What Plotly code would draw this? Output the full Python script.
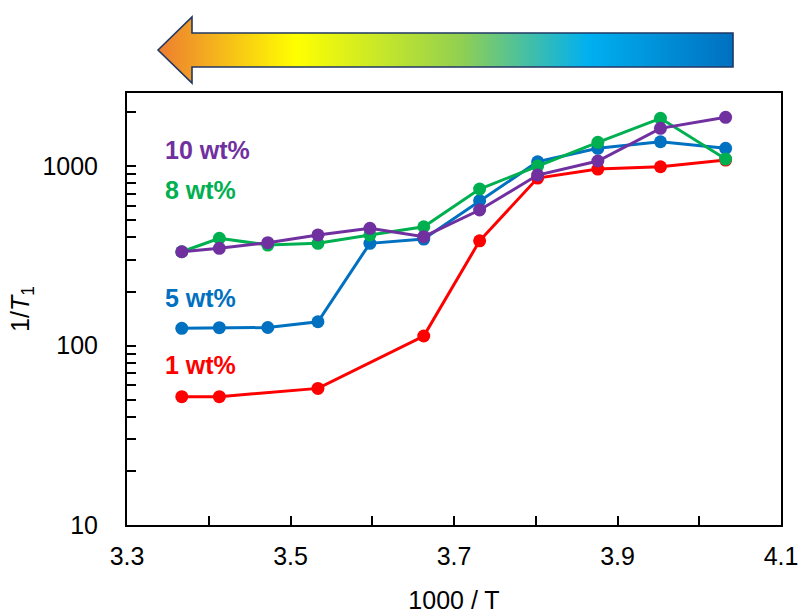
import base64
import plotly.graph_objects as go

# ---- data ----
temps_K = [297, 293, 288, 283, 278, 273, 268, 263, 258, 253, 248]
x_all = [1000.0 / t for t in temps_K]

red_idx = [0, 1, 3, 5, 6, 7, 8, 9, 10]
red_y = [51.9, 51.9, 57.7, 113, 383, 857, 962, 991, 1080]

blue_y = [124.7, 125.7, 126, 135.7, 371, 392, 641, 1057, 1255, 1366, 1255]
green_y = [333, 396, 363, 371, 413, 459, 745, 1000, 1356, 1845, 1094]
purple_y = [333, 348, 374, 413, 450, 404, 569, 891, 1067, 1622, 1868]

series_labels = ["1 wt%", "5 wt%", "8 wt%", "10 wt%"]
series_colors = ["#FF0000", "#0070C0", "#00B050", "#7030A0"]

x_tickvals = [3.3, 3.5, 3.7, 3.9, 4.1]
x_ticktext = ["3.3", "3.5", "3.7", "3.9", "4.1"]
x_minorvals = [3.4, 3.6, 3.8, 4.0]

FONT = "Liberation Sans, Arial, sans-serif"

fig = go.Figure()
series = [
    ([x_all[i] for i in red_idx], red_y),
    (x_all, blue_y),
    (x_all, green_y),
    (x_all, purple_y),
]
for (xs, ys), name, col in zip(series, series_labels, series_colors):
    fig.add_trace(go.Scatter(
        x=xs, y=ys, mode="lines+markers", name=name,
        line=dict(color=col, width=3),
        marker=dict(color=col, size=13),
        showlegend=False, cliponaxis=False,
    ))

# series labels
label_pos = {"10 wt%": 3.089, "8 wt%": 2.866, "5 wt%": 2.265, "1 wt%": 1.891}
for name, col in zip(series_labels, series_colors):
    fig.add_annotation(
        x=3.344, y=label_pos[name], xref="x", yref="y",
        text="<b>%s</b>" % name, showarrow=False, xanchor="left", yanchor="middle",
        font=dict(family=FONT, size=25, color=col),
    )

# gradient arrow (decorative) as SVG image
svg = (
    '<svg xmlns="http://www.w3.org/2000/svg" width="579" height="70" viewBox="0 0 579 70">'
    '<defs><linearGradient id="g" gradientUnits="userSpaceOnUse" x1="2" y1="0" x2="577" y2="0">'
    '<stop offset="0" stop-color="#ED7D31"/>'
    '<stop offset="0.24" stop-color="#FFFF00"/>'
    '<stop offset="0.525" stop-color="#92D050"/>'
    '<stop offset="0.748" stop-color="#00B0F0"/>'
    '<stop offset="1" stop-color="#0070C0"/>'
    '</linearGradient></defs>'
    '<path d="M2,35 L36,2 L36,18 L577,18 L577,52 L36,52 L36,68 Z" fill="url(#g)" '
    'stroke="#203864" stroke-width="1.6" stroke-linejoin="miter"/>'
    '</svg>'
)
src = "data:image/svg+xml;base64," + base64.b64encode(svg.encode()).decode()
L, R, T, B = 127, 22, 93, 90
W, H = 803, 615
pw, ph = W - L - R, H - T - B
fig.add_layout_image(
    source=src, xref="paper", yref="paper",
    x=(156 - L) / pw, y=(H - B - 15) / ph,
    sizex=579 / pw, sizey=70 / ph,
    xanchor="left", yanchor="top", sizing="stretch", layer="above",
)

fig.update_layout(
    width=W, height=H,
    margin=dict(l=L, r=R, t=T, b=B, pad=0, autoexpand=False),
    plot_bgcolor="white", paper_bgcolor="white",
    font=dict(family=FONT, size=25, color="#000000"),
)
fig.update_xaxes(
    range=[3.3, 4.1], tickvals=x_tickvals, ticktext=x_ticktext,
    ticks="inside", ticklen=9, tickwidth=1.5, tickcolor="black",
    minor=dict(ticks="inside", ticklen=9, tickwidth=1.5, tickcolor="black",
               tickvals=x_minorvals),
    showline=True, linecolor="black", linewidth=2, mirror=True,
    showgrid=False, zeroline=False, automargin=False,
    tickfont=dict(size=25), ticklabelstandoff=8,
    title=dict(text="1000 / T", font=dict(size=25), standoff=22),
)
fig.update_yaxes(
    type="log", range=[1, 3.407],
    tickvals=[10, 100, 1000], ticktext=["10", "100", "1000"],
    ticks="inside", ticklen=9, tickwidth=1.5, tickcolor="black",
    minor=dict(ticks="inside", ticklen=9, tickwidth=1.5, tickcolor="black",
               tickvals=[v * d for d in (10, 100, 1000) for v in range(2, 10) if v * d < 2600]),
    showline=True, linecolor="black", linewidth=2, mirror=True,
    showgrid=False, zeroline=False, automargin=False,
    tickfont=dict(size=25), ticklabelstandoff=22,
    title=dict(text="1/<i>T</i><sub>1</sub>", font=dict(size=25), standoff=6),
)

fig.write_html("out.html")
